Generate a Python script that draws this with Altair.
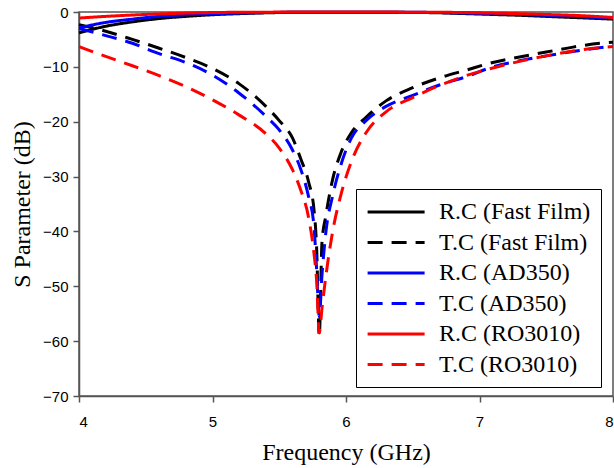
import altair as alt
import pandas as pd

# Frequency sweep (GHz)
FREQ = [4.0, 4.2, 4.4, 4.6, 4.8, 5.0, 5.2, 5.4, 5.5, 5.6, 5.66, 5.72, 5.76, 5.78,
        5.8, 5.82, 5.85, 5.9, 5.96, 6.04, 6.15, 6.3, 6.5, 6.7, 6.9, 7.1, 7.3,
        7.5, 7.7, 7.9, 8.0]

# S-parameters (dB) for each substrate
RC_FAST_FILM = [-3.8, -2.6, -1.8, -1.2, -0.8, -0.5, -0.3, -0.15, -0.1, -0.05, -0.04, -0.03,
                -0.03, -0.03, -0.03, -0.03, -0.03, -0.03, -0.03, -0.03, -0.04, -0.05,
                -0.08, -0.15, -0.3, -0.45, -0.6, -0.8, -1.0, -1.2, -1.3]
TC_FAST_FILM = [-2.3, -3.5, -5.0, -6.6, -8.3, -10.3, -13.1, -17.2, -19.8, -23.0, -26.7,
                -31.0, -36.0, -43.0, -59.0, -42.0, -37.0, -30.5, -25.8, -22.0, -19.2,
                -16.2, -13.8, -12.0, -10.6, -9.2, -8.2, -7.3, -6.4, -5.7, -5.5]
RC_AD350 = [-2.9, -1.9, -1.3, -0.8, -0.5, -0.3, -0.2, -0.1, -0.07, -0.05, -0.04, -0.03,
            -0.03, -0.03, -0.03, -0.03, -0.03, -0.03, -0.03, -0.03, -0.03, -0.04,
            -0.05, -0.1, -0.2, -0.3, -0.45, -0.6, -0.8, -1.0, -1.1]
TC_AD350 = [-3.0, -4.3, -5.7, -7.6, -9.2, -11.5, -14.8, -19.0, -21.5, -25.2, -28.6,
            -33.7, -39.0, -47.0, -55.5, -48.0, -40.0, -33.5, -28.0, -23.0, -19.8,
            -17.2, -15.2, -13.3, -11.8, -10.0, -8.9, -8.0, -7.2, -6.5, -6.2]
RC_RO3010 = [-1.1, -0.8, -0.55, -0.35, -0.2, -0.1, -0.05, -0.03, -0.02, -0.02, -0.02,
             -0.02, -0.02, -0.02, -0.02, -0.02, -0.02, -0.02, -0.02, -0.02, -0.02,
             -0.02, -0.03, -0.05, -0.1, -0.2, -0.3, -0.45, -0.6, -0.85, -1.0]
TC_RO3010 = [-6.3, -8.1, -9.8, -11.6, -13.6, -16.0, -18.8, -22.2, -24.8, -28.8, -32.4,
             -37.5, -44.0, -49.0, -58.5, -54.0, -48.0, -40.0, -33.5, -27.3, -22.0,
             -18.2, -15.6, -13.4, -11.6, -10.2, -9.0, -8.0, -7.1, -6.5, -6.3]

SERIES = ["R.C (Fast Film)", "T.C (Fast Film)", "R.C (AD350)",
          "T.C (AD350)", "R.C (RO3010)", "T.C (RO3010)"]
VALUES = [RC_FAST_FILM, TC_FAST_FILM, RC_AD350, TC_AD350, RC_RO3010, TC_RO3010]
COLORS = ["#000000", "#000000", "#0000ff", "#0000ff", "#ff0000", "#ff0000"]
DASHES = [[1, 0], [15, 9], [1, 0], [15, 9], [1, 0], [15, 9]]

rows = []
for order, (name, vals) in enumerate(zip(SERIES, VALUES)):
    for f, v in zip(FREQ, vals):
        rows.append({"Frequency": f, "S": v, "Series": name, "order": order})
df = pd.DataFrame(rows)

AXIS_COLOR = "#555555"

# Long horizontal legend key: a line segment extending to the right of the
# symbol's nominal box (units are half the square root of symbolSize).
LEGEND_LINE = "M-1,0L4,0"

chart = (
    alt.Chart(df)
    .mark_line(strokeWidth=3, interpolate="monotone")
    .encode(
        x=alt.X(
            "Frequency:Q",
            scale=alt.Scale(domain=[4, 8], nice=False, zero=False),
            axis=alt.Axis(
                title="Frequency (GHz)",
                values=[4, 5, 6, 7, 8],
                format="d",
                titleX=267,
                titleY=56,
                titleBaseline="middle",
                titleAnchor="middle",
            ),
        ),
        y=alt.Y(
            "S:Q",
            scale=alt.Scale(domain=[-70, 0], nice=False),
            axis=alt.Axis(
                title="S Parameter (dB)",
                values=list(range(-70, 1, 10)),
                titleX=-57,
                titleY=192,
                titleAngle=-90,
                titleBaseline="middle",
                titleAlign="center",
            ),
        ),
        color=alt.Color(
            "Series:N",
            scale=alt.Scale(domain=SERIES, range=COLORS),
            legend=alt.Legend(title=None),
        ),
        strokeDash=alt.StrokeDash(
            "Series:N",
            scale=alt.Scale(domain=SERIES, range=DASHES),
            legend=alt.Legend(title=None),
        ),
        order="order:Q",
    )
    .properties(
        width=534,
        height=384,
        autosize=alt.AutoSizeParams(type="none"),
        padding={"left": 79, "top": 12, "right": 1, "bottom": 72},
    )
    .configure_view(stroke=AXIS_COLOR, strokeWidth=1.5)
    .configure_axis(
        grid=False,
        domainColor=AXIS_COLOR,
        domainWidth=1.5,
        tickColor=AXIS_COLOR,
        tickWidth=1.5,
        tickSize=6,
        labelFont="Liberation Sans",
        labelFontSize=15,
        labelColor="#000000",
        titleFont="Liberation Serif",
        titleFontSize=24,
        titleFontWeight="normal",
        titleColor="#000000",
    )
    .configure_axisX(labelPadding=12)
    .configure_axisY(labelPadding=5)
    .configure_legend(
        orient="none",
        legendX=277,
        legendY=177,
        padding=10,
        strokeColor="#000000",
        fillColor="#ffffff",
        labelFont="Liberation Serif",
        labelFontSize=24,
        labelColor="#000000",
        labelLimit=400,
        labelOffset=47,
        symbolType=LEGEND_LINE,
        symbolSize=520,
        symbolStrokeWidth=3,
        rowPadding=5.5,
    )
)

chart.save("out.html", embed_options={"renderer": "svg", "actions": False})
